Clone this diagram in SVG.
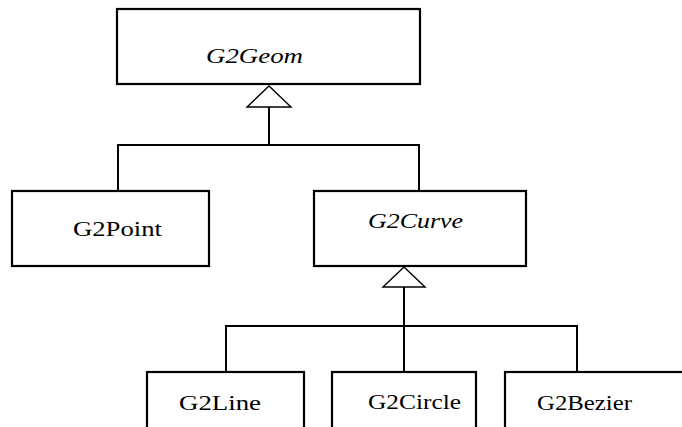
<svg xmlns="http://www.w3.org/2000/svg" width="682" height="427" viewBox="0 0 682 427">
  <style>
    .box { fill: #fff; stroke: #000; stroke-width: 2.2; }
    .edge { fill: none; stroke: #000; stroke-width: 2; }
    .head { fill: #fff; stroke: #000; stroke-width: 1.4; stroke-linejoin: miter; }
    text { font-family: 'Liberation Serif', 'Times New Roman', Times, 'DejaVu Serif', 'Noto Serif', serif; font-size: 21px; fill: #000; }
    .abstract { font-style: italic; }
  </style>
  <rect width="682" height="427" fill="#fff"/>

  <!-- generalization connectors -->
  <g id="connectors">
    <polyline class="edge" points="269,107 269,145"/>
    <polyline class="edge" points="118,191 118,145 419,145 419,191"/>
    <polygon class="head" points="269,86 247,107 291,107"/>

    <polyline class="edge" points="404,287 404,372"/>
    <polyline class="edge" points="226,372 226,326 577,326 577,372"/>
    <polygon class="head" points="404,267 383,287 425,287"/>
  </g>

  <g id="G2Geom">
    <rect class="box" x="117" y="9" width="303" height="75"/>
    <text class="abstract" x="206" y="63" textLength="97" lengthAdjust="spacingAndGlyphs">G2Geom</text>
  </g>

  <g id="G2Point">
    <rect class="box" x="12" y="191" width="197" height="75"/>
    <text x="73" y="236" textLength="89" lengthAdjust="spacingAndGlyphs">G2Point</text>
  </g>

  <g id="G2Curve">
    <rect class="box" x="314" y="191" width="212" height="75"/>
    <text class="abstract" x="368" y="228" textLength="95" lengthAdjust="spacingAndGlyphs">G2Curve</text>
  </g>

  <g id="G2Line">
    <rect class="box" x="147" y="372" width="157" height="80"/>
    <text x="179" y="410" textLength="82" lengthAdjust="spacingAndGlyphs">G2Line</text>
  </g>

  <g id="G2Circle">
    <rect class="box" x="332" y="372" width="144" height="80"/>
    <text x="368" y="409" textLength="93" lengthAdjust="spacingAndGlyphs">G2Circle</text>
  </g>

  <g id="G2Bezier">
    <rect class="box" x="505" y="372" width="200" height="80"/>
    <text x="537" y="410" textLength="95" lengthAdjust="spacingAndGlyphs">G2Bezier</text>
  </g>
</svg>
